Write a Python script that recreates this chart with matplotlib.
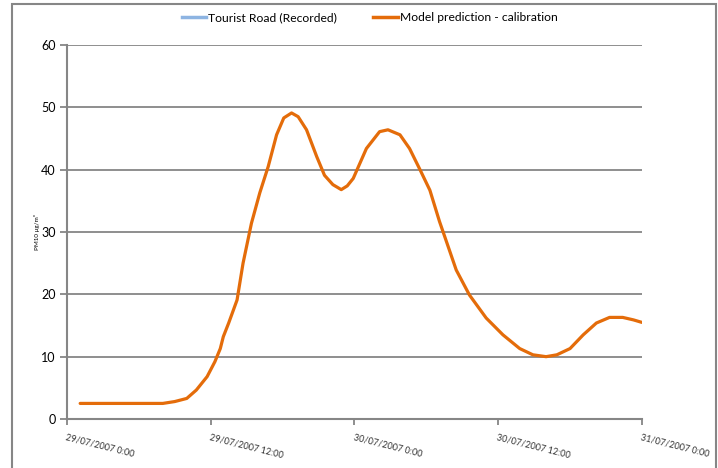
import numpy as np
import matplotlib
matplotlib.use('Agg')
import matplotlib.pyplot as plt
from matplotlib.patches import Rectangle
from matplotlib.lines import Line2D

plt.rcParams['font.family'] = ['Lato', 'DejaVu Sans']

# hours since 29/07/2007 0:00 and modelled PM10 (ug/m3)
hours = [1.1, 2, 3, 4, 5, 6, 7, 8.0, 9, 10.0, 10.8, 11.7, 12.35, 12.8, 13.05, 13.5,
         14.2, 14.7, 15.4, 16.1, 16.8, 17.5, 18.1, 18.75, 19.3, 20.0, 20.85, 21.5,
         22.2, 22.9, 23.4, 23.9, 25.0, 26.1, 26.8, 27.8, 28.6, 29.5, 30.3, 31.1,
         31.55, 32.5, 33.6, 35.0, 36.4, 37.8, 38.9, 40.0, 40.9, 42.0, 43.1, 44.2,
         45.3, 46.4, 47.3, 48.0]
model = [2.5, 2.5, 2.5, 2.5, 2.5, 2.5, 2.5, 2.5, 2.8, 3.3, 4.65, 6.8, 9.2, 11.3, 13.2, 15.4,
         19.1, 25.0, 31.4, 36.3, 40.5, 45.6, 48.3, 49.1, 48.5, 46.4, 42.1, 39.1,
         37.6, 36.8, 37.4, 38.6, 43.4, 46.1, 46.4, 45.6, 43.4, 39.9, 36.7, 31.7,
         29.2, 23.9, 19.9, 16.2, 13.5, 11.3, 10.3, 10.0, 10.3, 11.3, 13.5, 15.4,
         16.3, 16.3, 15.9, 15.5]

tick_hours = [0, 12, 24, 36, 48]
tick_labels = ['29/07/2007 0:00', '29/07/2007 12:00', '30/07/2007 0:00',
               '30/07/2007 12:00', '31/07/2007 0:00']

grey = '#868686'
orange = '#E46C0A'
blue = '#8DB4E2'

fig = plt.figure(figsize=(7.18, 4.68), dpi=100)
ax = fig.add_axes([0.0933, 0.1047, 0.8007, 0.7991])

ax.plot(hours, model, color=orange, lw=2.3, solid_capstyle='round')

ax.set_xlim(0, 48)
ax.set_ylim(0, 60)
ax.set_yticks(range(0, 61, 10))
ax.yaxis.grid(True, color=grey, lw=1.3)
ax.set_axisbelow(True)
for s in ['top', 'right']:
    ax.spines[s].set_visible(False)
for s in ['left', 'bottom']:
    ax.spines[s].set_color(grey)
    ax.spines[s].set_linewidth(1.5)

ax.tick_params(axis='y', length=5, width=1.3, color=grey, labelsize=9, pad=3)
ax.set_xticks(tick_hours)
ax.set_xticklabels(tick_labels, rotation=-14, ha='left', va='top',
                   rotation_mode='anchor', fontsize=6.5, color='#333333')
ax.tick_params(axis='x', length=4, width=1.3, color=grey, pad=6)

ax.set_ylabel('PM10 μg/m³', fontsize=4.5, labelpad=1)

handles = [Line2D([], [], color=blue, lw=2.5),
           Line2D([], [], color=orange, lw=2.5)]
fig.legend(handles, ['Tourist Road (Recorded)', 'Model prediction - calibration'],
           loc='center', bbox_to_anchor=(0.515, 0.962), ncol=2, frameon=False,
           fontsize=8.7, handlelength=2.0, handletextpad=0.2, columnspacing=3.0)

# chart border
fig.patches.append(Rectangle((12 / 718, -0.05), 704 / 718, 1.05 - 4 / 468,
                             transform=fig.transFigure, fill=False,
                             edgecolor=grey, lw=1.5))

fig.savefig('out.png', dpi=100)
